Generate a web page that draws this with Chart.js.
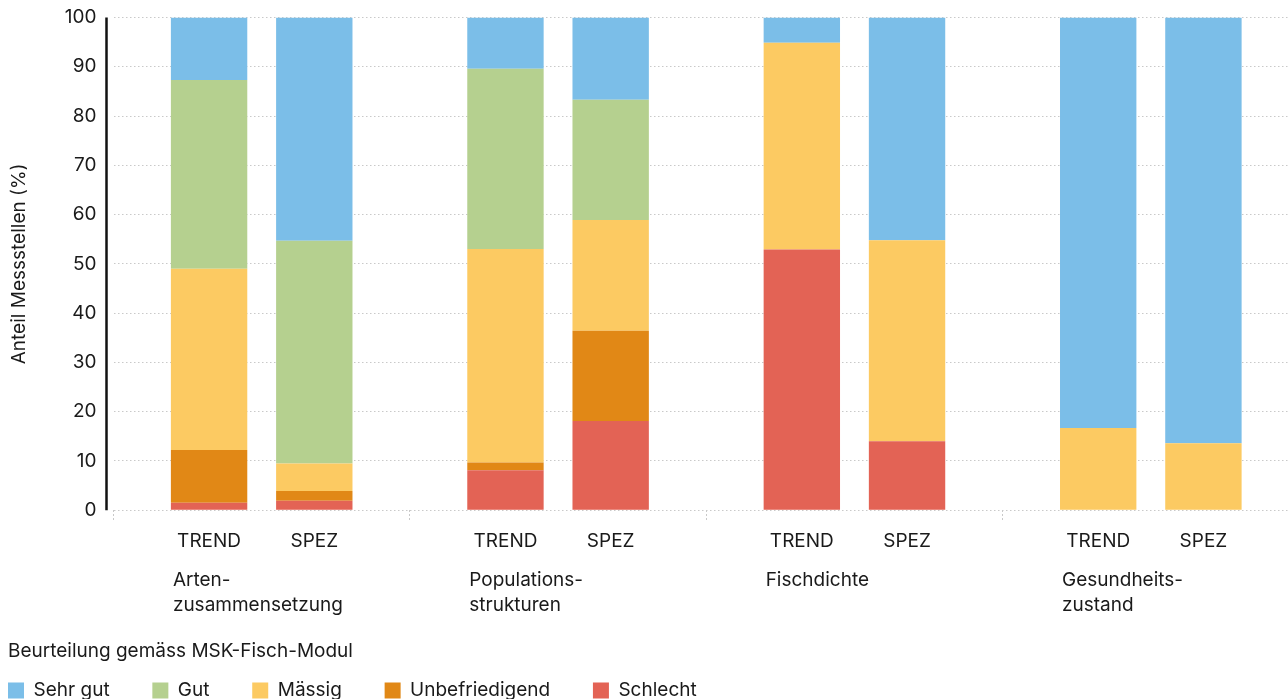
<!DOCTYPE html>
<html lang="de">
<head>
    <meta charset="UTF-8">
    <title>MSK-Fisch-Modul</title>
    <script src="https://cdn.jsdelivr.net/npm/chart.js"></script>
    <style>
        body { margin: 0; overflow: hidden; background: #fff; }
        #wrap { width: 1300px; height: 710px; }
    </style>
</head>
<body>
<div id="wrap">
    <canvas id="myChart"></canvas>
</div>
<script>
// Kategorien (mehrzeilig) und die beiden Stapel pro Kategorie
const categories = [['Arten-', 'zusammensetzung'], ['Populations-', 'strukturen'], ['Fischdichte'], ['Gesundheits-', 'zustand']];
const stacks = ['TREND', 'SPEZ'];
const yTicks = [0, 10, 20, 30, 40, 50, 60, 70, 80, 90, 100];

// Anteile in % (von unten nach oben gestapelt)
const schlechtTrend = [1.5, 8.1, 52.9, 0];
const schlechtSpez  = [1.9, 18.1, 14.0, 0];
const unbefTrend    = [10.7, 1.6, 0, 0];
const unbefSpez     = [2.0, 18.3, 0, 0];
const maessigTrend  = [36.8, 43.3, 42.0, 16.7];
const maessigSpez   = [5.6, 22.5, 40.8, 13.6];
const gutTrend      = [38.3, 36.6, 0, 0];
const gutSpez       = [45.2, 24.4, 0, 0];
const sehrGutTrend  = [12.7, 10.4, 5.1, 83.3];
const sehrGutSpez   = [45.3, 16.7, 45.2, 86.4];

const ratings = [
    { label: 'Schlecht',       color: '#e36355', trend: schlechtTrend, spez: schlechtSpez },
    { label: 'Unbefriedigend', color: '#e18816', trend: unbefTrend,    spez: unbefSpez },
    { label: 'Mässig',         color: '#fcca62', trend: maessigTrend,  spez: maessigSpez },
    { label: 'Gut',            color: '#b5d08f', trend: gutTrend,      spez: gutSpez },
    { label: 'Sehr gut',       color: '#7bbee8', trend: sehrGutTrend,  spez: sehrGutSpez }
];

const datasets = [];
ratings.forEach(r => {
    datasets.push({ label: r.label, data: r.trend, stack: stacks[0], backgroundColor: r.color });
    datasets.push({ label: r.label, data: r.spez,  stack: stacks[1], backgroundColor: r.color });
});

const textColor = '#1a1a1a';
const fontSize = 19;
Chart.defaults.font.family = 'Inter, "Noto Sans", sans-serif';
Chart.defaults.color = textColor;

// TREND/SPEZ unter jedem Balken, Kategorienamen darunter, y-Achsenlinie etwas links vom Plotbereich
const groupLabels = {
    id: 'groupLabels',
    afterDraw(chart) {
        const { ctx, chartArea } = chart;
        const trendBars = chart.getDatasetMeta(0).data;
        const spezBars = chart.getDatasetMeta(1).data;
        ctx.save();
        ctx.strokeStyle = '#111';
        ctx.lineWidth = 2.5;
        ctx.beginPath();
        ctx.moveTo(chartArea.left - 7, chartArea.top);
        ctx.lineTo(chartArea.left - 7, chartArea.bottom);
        ctx.stroke();

        ctx.font = fontSize + 'px ' + Chart.defaults.font.family;
        ctx.fillStyle = textColor;
        ctx.textBaseline = 'middle';
        categories.forEach((lines, i) => {
            ctx.textAlign = 'center';
            ctx.fillText(stacks[0], trendBars[i].x, chartArea.bottom + 31);
            ctx.fillText(stacks[1], spezBars[i].x, chartArea.bottom + 31);
            ctx.textAlign = 'left';
            const left = trendBars[i].x - trendBars[i].width / 2 + 2;
            lines.forEach((line, k) => ctx.fillText(line, left, chartArea.bottom + 70 + k * 25));
        });
        ctx.restore();
    }
};

const ctx = document.querySelector('#myChart');
const fischChart = new Chart(ctx, {
    type: 'bar',
    data: { labels: categories, datasets: datasets },
    plugins: [groupLabels],
    options: {
        responsive: true,
        maintainAspectRatio: false,
        animation: false,
        layout: { padding: { top: 17.5, left: 8, right: 1, bottom: 0 } },
        datasets: { bar: { categoryPercentage: 0.71, barPercentage: 0.726, borderWidth: 0 } },
        scales: {
            x: {
                stacked: true,
                ticks: { display: false },
                grid: { drawOnChartArea: false, drawTicks: true, tickLength: 10, tickColor: '#c9c9c9', tickBorderDash: [2, 2] },
                border: { display: false },
                afterFit(scale) { scale.height = 122; }
            },
            y: {
                stacked: true,
                min: 0,
                max: 100,
                afterBuildTicks(scale) { scale.ticks = yTicks.map(v => ({ value: v })); },
                ticks: { padding: 3, color: textColor, font: { size: fontSize } },
                // unsichtbare Tickmarks: schaffen nur Platz für die Achsenlinie
                grid: { color: '#c9c9c9', drawTicks: true, tickLength: 14, tickColor: 'rgba(0,0,0,0)' },
                border: { display: false, dash: [1.5, 2.5] },
                title: {
                    display: true,
                    text: 'Anteil Messstellen (%)',
                    color: textColor,
                    font: { size: fontSize },
                    padding: { top: 0, bottom: 31 }
                }
            }
        },
        plugins: {
            tooltip: { enabled: false },
            legend: {
                position: 'bottom',
                align: 'start',
                reverse: true,
                title: {
                    display: true,
                    text: 'Beurteilung gemäss MSK-Fisch-Modul',
                    position: 'start',
                    color: textColor,
                    font: { size: fontSize },
                    padding: { top: 10, bottom: 16 }
                },
                labels: {
                    boxWidth: 16,
                    boxHeight: 16,
                    padding: 0,
                    color: textColor,
                    font: { size: fontSize },
                    filter: item => item.datasetIndex % 2 === 0,
                    // etwas Luft zwischen den Einträgen
                    generateLabels(chart) {
                        const items = Chart.defaults.plugins.legend.labels.generateLabels(chart);
                        items.forEach(it => { it.text = it.text + '\u2003\u2003\u2005'; });
                        return items;
                    }
                }
            }
        }
    }
});
</script>
</body>
</html>
